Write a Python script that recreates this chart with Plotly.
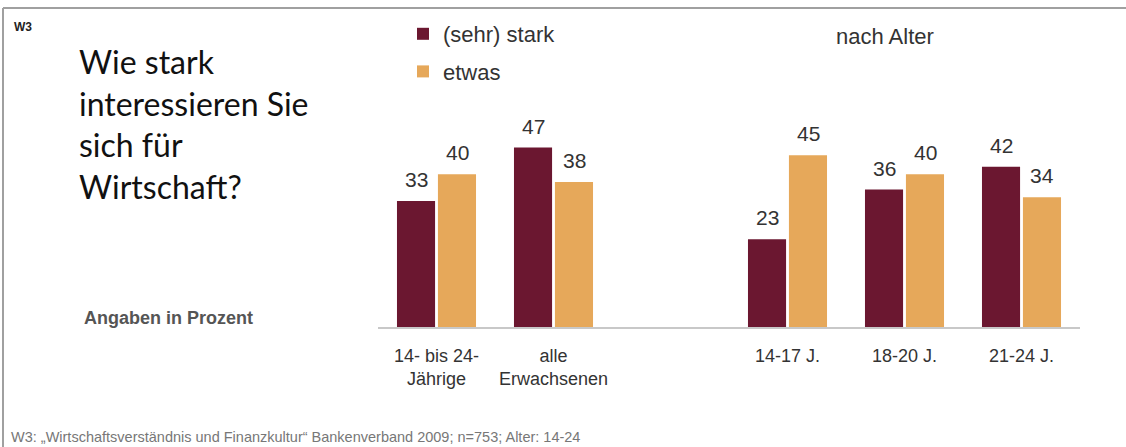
import plotly.graph_objects as go

categories = ["14- bis 24-<br>Jährige", "alle<br>Erwachsenen", "14-17 J.", "18-20 J.", "21-24 J."]
positions = [0, 1, 3, 4, 5]
stark = [33, 47, 23, 36, 42]
etwas = [40, 38, 45, 40, 34]
series_names = ["(sehr) stark", "etwas"]
colors = ["#6b1730", "#e6a85a"]

W, H = 1126, 447
L, R, T, B = 378, 46, 98, 120
PW, PH = W - L - R, H - T - B

FONT = "Liberation Sans, Arial"


def px_x(x):
    return (x - L) / PW


def px_y(y):
    return (H - B - y) / PH


fig = go.Figure()
for name, vals, col, shift in zip(series_names, [stark, etwas], colors, [-20.5, 20.5]):
    fig.add_trace(go.Bar(
        x=positions, y=vals, name=name, marker_color=col, marker_line_width=0,
        legendgroup=name, hoverinfo="x+y",
    ))
    for p, v in zip(positions, vals):
        fig.add_annotation(xref="x", yref="y", x=p, y=v, text=str(v), showarrow=False,
                           xanchor="center", yanchor="bottom", xshift=shift, yshift=8,
                           font=dict(family=FONT, size=21, color="#333333"))

fig.update_layout(
    width=W, height=H,
    margin=dict(l=L, r=R, t=T, b=B, autoexpand=False),
    paper_bgcolor="white", plot_bgcolor="white",
    barmode="group", bargap=0.3, bargroupgap=0.07,
    showlegend=True,
    legend=dict(x=px_x(403), y=px_y(13), xanchor="left", yanchor="top",
                orientation="v", tracegroupgap=6, bgcolor="rgba(0,0,0,0)",
                font=dict(family=FONT, size=22, color="#333333"),
                itemclick=False, itemdoubleclick=False),
    xaxis=dict(range=[-0.5, 5.5], tickmode="array", tickvals=positions, ticktext=categories,
               showgrid=False, zeroline=False, showline=True, linecolor="#c8c8c8", linewidth=2,
               ticks="", ticklabelstandoff=11,
               tickfont=dict(family=FONT, size=18, color="#333333")),
    yaxis=dict(range=[0, 60], visible=False, showgrid=False, zeroline=False),
    font=dict(family=FONT),
)

annos = [
    dict(text="<b>W3</b>", x=px_x(12), y=px_y(27), xanchor="left", yanchor="middle",
         font=dict(family=FONT, size=12, color="#222222")),
    dict(text="Wie stark<br>interessieren Sie<br>sich für<br>Wirtschaft?", x=px_x(77), y=px_y(40),
         xanchor="left", yanchor="top", align="left",
         font=dict(family="Lato, Open Sans", size=32, color="#111111")),
    dict(text="<b>Angaben in Prozent</b>", x=px_x(82), y=px_y(318), xanchor="left", yanchor="middle",
         font=dict(family=FONT, size=18, color="#555555")),
    dict(text="nach Alter", x=px_x(885), y=px_y(36), xanchor="center", yanchor="middle",
         font=dict(family=FONT, size=22, color="#333333")),
    dict(text="W3: „Wirtschaftsverständnis und Finanzkultur“ Bankenverband 2009; n=753; Alter: 14-24",
         x=px_x(9), y=px_y(437), xanchor="left", yanchor="middle",
         font=dict(family=FONT, size=14.5, color="#777777")),
]
for a in annos:
    fig.add_annotation(xref="paper", yref="paper", showarrow=False, **a)

# frame lines (top and left)
fig.add_shape(type="line", xref="paper", yref="paper", x0=px_x(3), x1=px_x(W), y0=px_y(8), y1=px_y(8),
              line=dict(color="#a0a0a0", width=2))
fig.add_shape(type="line", xref="paper", yref="paper", x0=px_x(3), x1=px_x(3), y0=px_y(8), y1=px_y(H),
              line=dict(color="#a0a0a0", width=2))

fig.write_html("out.html")
